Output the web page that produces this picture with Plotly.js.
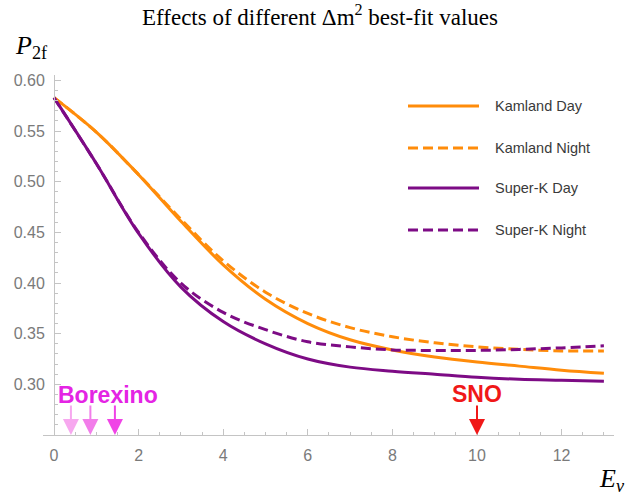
<!DOCTYPE html>
<html>
<head>
<meta charset="utf-8">
<script src="https://cdn.plot.ly/plotly-3.0.1.min.js"></script>
<style>html,body{margin:0;padding:0;background:#fff;}#chart{width:640px;height:497px;}</style>
</head>
<body>
<div id="chart"></div>
<script>
// ---- data ----
const energy = [0,1,2,3,4,5,6,7,8,9,10,11,12,13];
const kamlandDay   = [0.583,0.549,0.507,0.461,0.418,0.384,0.360,0.344,0.334,0.327,0.322,0.318,0.314,0.311];
const kamlandNight = [0.583,0.549,0.507,0.463,0.422,0.391,0.370,0.356,0.347,0.341,0.337,0.3345,0.333,0.333];
const superKDay    = [0.583,0.518,0.449,0.396,0.362,0.340,0.325,0.317,0.313,0.310,0.307,0.305,0.304,0.303];
const superKNight  = [0.583,0.518,0.450,0.400,0.371,0.354,0.342,0.337,0.334,0.3335,0.3335,0.3345,0.336,0.338];
const seriesNames  = ["Kamland Day","Kamland Night","Super-K Day","Super-K Night"];
const borexinoE    = [0.4,0.86,1.44];
const snoE         = [10];
const yTickVals    = [0.30,0.35,0.40,0.45,0.50,0.55,0.60];
const xTickVals    = [0,2,4,6,8,10,12];

// ---- styling ----
const ORANGE = "#FF8C0A", PURPLE = "#7D0B85";
const L=43, R=614, T=75, B=435, W=640, H=497;
const xScale = 42.3, x0px = 54, yScale = 1013;
const xmin = -(x0px-L)/xScale, xmax = (R-x0px)/xScale;
const ymin = 0.25, ymax = 0.25 + (B-T)/yScale;
const px = p => (p-L)/(R-L);
const py = p => (B-p)/(B-T);

const styles = [
  {color:ORANGE, dash:"solid"},
  {color:ORANGE, dash:"10px,5px"},
  {color:PURPLE, dash:"solid"},
  {color:PURPLE, dash:"10px,5px"}
];
const series = [kamlandDay,kamlandNight,superKDay,superKNight];
const order = [0,2,1,3];
const traces = order.map(i => ({
  x: energy, y: series[i], type:"scatter", mode:"lines", name: seriesNames[i],
  line:{color:styles[i].color, width:3, dash:styles[i].dash, shape:"spline", smoothing:1},
  showlegend:false, hoverinfo:"skip"
}));

const shapes = [];
const annotations = [];
const legRows = [106,148,188,230];
seriesNames.forEach((n,i)=>{
  shapes.push({type:"line", xref:"paper", yref:"paper", x0:px(408), x1:px(479), y0:py(legRows[i]), y1:py(legRows[i]),
    line:{color:styles[i].color, width:3, dash:styles[i].dash}});
  annotations.push({xref:"paper", yref:"paper", x:px(493), y:py(legRows[i]), xanchor:"left", yanchor:"middle",
    text:n, showarrow:false, font:{family:"Liberation Sans, Arial", size:14.5, color:"#3a3a3a"}});
});
const borColors = ["#F7A8EF","#F27DEA","#F044E6"];
borexinoE.forEach((e,i)=>{
  annotations.push({x:e, y:ymin, xref:"x", yref:"y", ax:0, ay:-31, text:"", showarrow:true,
    arrowhead:2, arrowsize:1.6, arrowwidth:2, arrowcolor:borColors[i]});
});
snoE.forEach(e=>{
  annotations.push({x:e, y:ymin, xref:"x", yref:"y", ax:0, ay:-31, text:"", showarrow:true,
    arrowhead:2, arrowsize:1.6, arrowwidth:2, arrowcolor:"#F01818"});
  annotations.push({x:e, y:0.2905, xref:"x", yref:"y", text:"<b>SNO</b>", showarrow:false,
    xanchor:"center", yanchor:"middle", font:{family:"Liberation Sans, Arial", size:23, color:"#F01818"}});
});
annotations.push({x:1.27, y:0.2896, xref:"x", yref:"y", text:"<b>Borexino</b>", showarrow:false,
  xanchor:"center", yanchor:"middle", font:{family:"Liberation Sans, Arial", size:23, color:"#E424E4"}});
annotations.push({xref:"paper", yref:"paper", x:px(13), y:py(47), xanchor:"left", yanchor:"middle",
  text:"<i>P</i><sub>2f</sub>", showarrow:false, font:{family:"Liberation Serif, Times New Roman", size:26, color:"#000"}});
annotations.push({xref:"paper", yref:"paper", x:px(612), y:py(480), xanchor:"center", yanchor:"middle",
  text:"<i>E<sub>ν</sub></i>", showarrow:false, font:{family:"Liberation Serif, Times New Roman", size:26, color:"#000"}});

const layout = {
  width:W, height:H,
  margin:{l:L, r:W-R, t:T, b:H-B, pad:0},
  paper_bgcolor:"#fff", plot_bgcolor:"#fff",
  showlegend:false,
  title:{text:"Effects of different Δm<sup>2</sup> best-fit values", x:0.5, xanchor:"center",
    y:1-17/H, yanchor:"middle", yref:"container",
    font:{family:"Liberation Serif, Times New Roman", size:23, color:"#000"}},
  xaxis:{range:[xmin,xmax], showgrid:false, zeroline:false, showline:true, linecolor:"#c4c4c4", linewidth:1,
    tickmode:"array", tickvals:xTickVals, ticks:"inside", ticklen:6, tickcolor:"#c4c4c4", tickwidth:1,
    minor:{dtick:0.5, tick0:0, ticks:"inside", ticklen:3, tickcolor:"#c4c4c4", showgrid:false},
    tickfont:{family:"Liberation Sans, Arial", size:16, color:"#7a7a7a"}, ticklabelstandoff:6},
  yaxis:{range:[ymin,ymax], showgrid:false, zeroline:false, showline:true, linecolor:"#c4c4c4", linewidth:1,
    anchor:"free", position:px(x0px),
    tickmode:"array", tickvals:yTickVals, tickformat:".2f", ticks:"inside", ticklen:6, tickcolor:"#c4c4c4", tickwidth:1,
    minor:{dtick:0.01, tick0:0, ticks:"inside", ticklen:3, tickcolor:"#c4c4c4", showgrid:false},
    tickfont:{family:"Liberation Sans, Arial", size:16, color:"#7a7a7a"}, ticklabelstandoff:6},
  shapes:shapes, annotations:annotations
};
Plotly.newPlot("chart", traces, layout, {displayModeBar:false, staticPlot:true});
</script>
</body>
</html>
